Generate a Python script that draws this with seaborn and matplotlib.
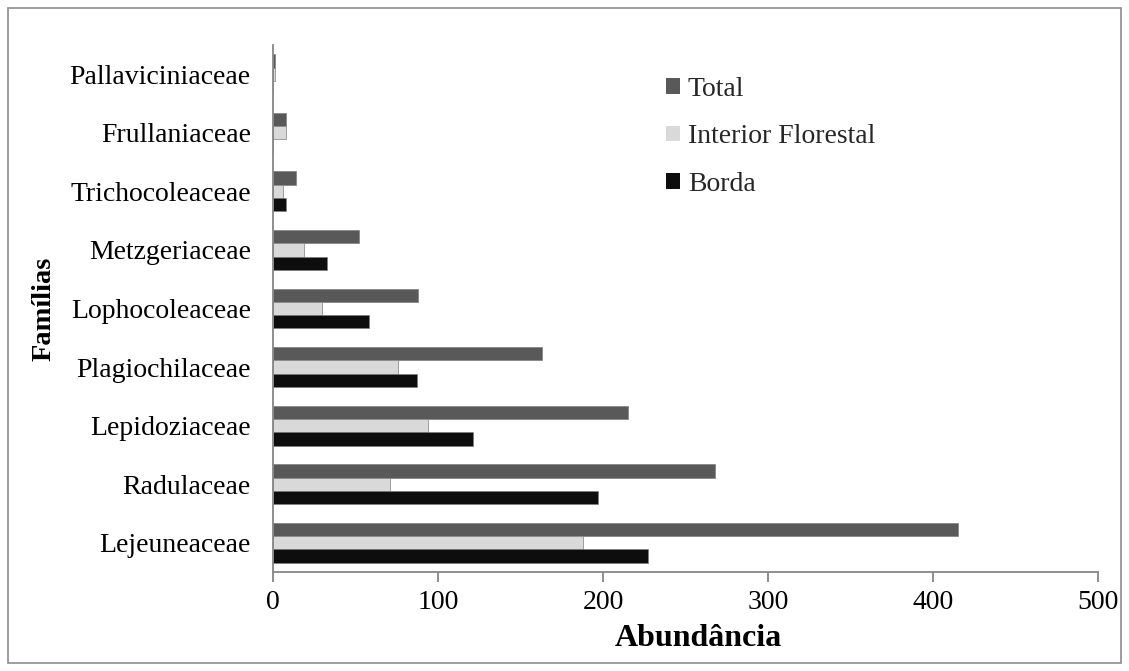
import matplotlib
matplotlib.use("Agg")
import matplotlib.pyplot as plt
import matplotlib.patches as mpatches
import seaborn as sns
import pandas as pd

familias = ["Pallaviciniaceae", "Frullaniaceae", "Trichocoleaceae", "Metzgeriaceae",
            "Lophocoleaceae", "Plagiochilaceae", "Lepidoziaceae", "Radulaceae", "Lejeuneaceae"]
total = [1, 8, 14, 52, 88, 163, 215, 268, 415]
interior = [1, 8, 6, 19, 30, 76, 94, 71, 188]
borda = [0, 0, 8, 33, 58, 87, 121, 197, 227]
series = ["Total", "Interior Florestal", "Borda"]
cores = ["#595959", "#d9d9d9", "#0d0d0d"]
xticks = [0, 100, 200, 300, 400, 500]

df = pd.DataFrame({
    "Família": familias * 3,
    "Abundância": total + interior + borda,
    "Série": [s for s in series for _ in familias],
})

sns.set_theme(style="white")
plt.rcParams["font.family"] = ["Liberation Serif", "DejaVu Serif"]

fig = plt.figure(figsize=(11.29, 6.71), dpi=100)
ax = fig.add_axes([0.2418, 0.1475, 0.7308, 0.7855])

sns.barplot(data=df, y="Família", x="Abundância", hue="Série", order=familias,
            hue_order=series, palette=cores, orient="h", width=0.68,
            edgecolor="#7f7f7f", linewidth=0.5, saturation=1, ax=ax)

ax.set_xlim(0, 500)
ax.set_ylim(len(familias) - 0.5, -0.5)
ax.set_xticks(xticks)
ax.set_xticklabels([str(v) for v in xticks], fontsize=20)
ax.tick_params(axis="x", bottom=True, length=7, width=1.3, color="#868686",
               direction="out", pad=6)
ax.tick_params(axis="y", left=False, length=0, labelsize=20, pad=16)
for lbl in ax.get_yticklabels() + ax.get_xticklabels():
    lbl.set_color("black")

for side in ["top", "right"]:
    ax.spines[side].set_visible(False)
for side in ["left", "bottom"]:
    ax.spines[side].set_color("#868686")
    ax.spines[side].set_linewidth(1.3)

ax.set_xlabel("Abundância", fontsize=23, fontweight="bold", color="black")
ax.xaxis.set_label_coords(0.516, -0.098)
ax.set_ylabel("Famílias", fontsize=20.5, fontweight="bold", color="black")
ax.yaxis.set_label_coords(-0.262, 0.5)

leg = ax.legend(loc="upper left", bbox_to_anchor=(0.476, 0.94), frameon=False,
                fontsize=20, handlelength=0.5, handleheight=0.5,
                handletextpad=0.3, labelspacing=0.82, borderpad=0, borderaxespad=0)
for h in leg.legend_handles:
    h.set_edgecolor("none")

fig.patches.append(mpatches.Rectangle((0.007, 0.012), 0.986, 0.976, transform=fig.transFigure,
                                      fill=False, edgecolor="#8c8c8c", linewidth=1.2))

fig.savefig("out.png", dpi=100, facecolor="white")
